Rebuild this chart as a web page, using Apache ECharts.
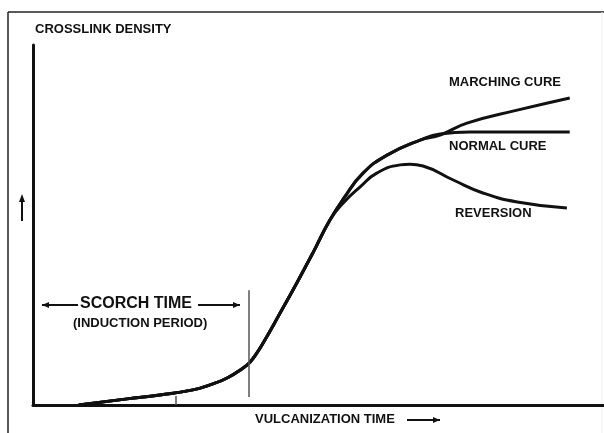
<!DOCTYPE html>
<html>
<head>
<meta charset="utf-8">
<script src="https://cdn.jsdelivr.net/npm/echarts@6/dist/echarts.min.js"></script>
<style>
  html, body { margin: 0; padding: 0; background: #fff; }
  #chart { width: 604px; height: 433px; }
</style>
</head>
<body>
<div id="chart"></div>
<script>
// curves, in arbitrary units (time 0..100, density 0..100)
var sharedCurve = [[8.0, 0], [16.5, 1.7], [22.2, 2.8], [28.0, 4.2], [31.0, 5.6], [34.0, 7.5],
  [36.8, 10.3], [38.0, 11.9], [39.1, 14.2], [40.3, 17.2], [43.3, 25.6], [46.2, 33.9],
  [49.0, 42.2], [52.0, 51.4]]
var upperPart = [[54.5, 57.6], [57.8, 64.4], [62.0, 69.4], [67.8, 73.6]]
var normalTail = [[71.3, 75.3], [76.5, 75.8], [85.0, 75.8], [94.0, 75.8]]
var marchingTail = [[71.3, 75.0], [76.0, 78.3], [84.8, 81.9], [94.0, 85.3]]
var reversionTail = [[54.5, 56.4], [57.3, 60.6], [60.2, 64.4], [64.3, 66.7], [66.0, 66.9],
  [68.3, 66.4], [73.6, 62.5], [78.8, 58.9], [84.8, 56.4], [93.5, 54.7]]
var scorchEnd = 37.7   // end of induction period
var scorchMark = 25.0  // small tick on the baseline

var normalCure = sharedCurve.concat(upperPart, normalTail)
var marchingCure = sharedCurve.concat(upperPart, marchingTail)
var reversion = sharedCurve.concat(reversionTail)

var font = '"Liberation Sans", Arial, sans-serif'
var ink = '#111'

function label(text, x, y, size) {
  return {
    type: 'text', left: x, top: y,
    style: { text: text, font: 'bold ' + size + 'px ' + font, fill: ink }
  }
}
function arrowH(x1, x2, y, headRight) {
  var hx = headRight ? x2 : x1
  var d = headRight ? -7 : 7
  return [
    { type: 'line', shape: { x1: x1, y1: y, x2: x2, y2: y }, style: { stroke: ink, lineWidth: 2 } },
    { type: 'polygon', shape: { points: [[hx, y], [hx + d, y - 3], [hx + d, y + 3]] }, style: { fill: ink } }
  ]
}

function curve(name, data) {
  return {
    name: name, type: 'line', data: data, smooth: 0.5,
    showSymbol: false, lineStyle: { color: ink, width: 3 }, z: 3
  }
}

var chart = echarts.init(document.getElementById('chart'))
var series = [curve('MARCHING CURE', marchingCure), curve('NORMAL CURE', normalCure), curve('REVERSION', reversion)]
series[0].markLine = {
  silent: true, symbol: 'none', label: { show: false },
  lineStyle: { color: '#555', width: 1.5, type: 'solid' },
  data: [
    [{ coord: [scorchEnd, 2.2] }, { coord: [scorchEnd, 31.9] }],
    [{ coord: [scorchMark, 0] }, { coord: [scorchMark, 2.5] }]
  ]
}

chart.setOption({
  animation: false,
  backgroundColor: '#fff',
  grid: { left: 33, right: 0, top: 45, bottom: 28 },
  xAxis: {
    type: 'value', min: 0, max: 100,
    axisLine: { show: true, lineStyle: { color: ink, width: 3 } },
    axisTick: { show: false }, axisLabel: { show: false }, splitLine: { show: false }
  },
  yAxis: {
    type: 'value', min: 0, max: 100,
    axisLine: { show: true, lineStyle: { color: ink, width: 3 } },
    axisTick: { show: false }, axisLabel: { show: false }, splitLine: { show: false }
  },
  series: series,
  graphic: [
    // frame
    { type: 'line', shape: { x1: 8, y1: 12, x2: 604, y2: 12 }, style: { stroke: '#222', lineWidth: 1.5 } },
    { type: 'line', shape: { x1: 8, y1: 12, x2: 8, y2: 433 }, style: { stroke: '#222', lineWidth: 1.5 } },
    { type: 'line', shape: { x1: 602, y1: 12, x2: 602, y2: 433 }, style: { stroke: '#eee', lineWidth: 1 } },
    label('CROSSLINK DENSITY', 35, 23, 13),
    label('MARCHING CURE', 449, 76, 13),
    label('NORMAL CURE', 449, 140, 13),
    label('REVERSION', 455, 207, 13),
    label('SCORCH TIME', 80, 296, 16),
    label('(INDUCTION PERIOD)', 73, 317, 13),
    label('VULCANIZATION TIME', 255, 413, 13),
    // up arrow next to y axis
    { type: 'line', shape: { x1: 22, y1: 221, x2: 22, y2: 200 }, style: { stroke: ink, lineWidth: 2 } },
    { type: 'polygon', shape: { points: [[22, 194], [19, 202], [25, 202]] }, style: { fill: ink } }
  ].concat(arrowH(42, 78, 305, false), arrowH(198, 240, 305, true), arrowH(407, 440, 420, true))
})
</script>
</body>
</html>
